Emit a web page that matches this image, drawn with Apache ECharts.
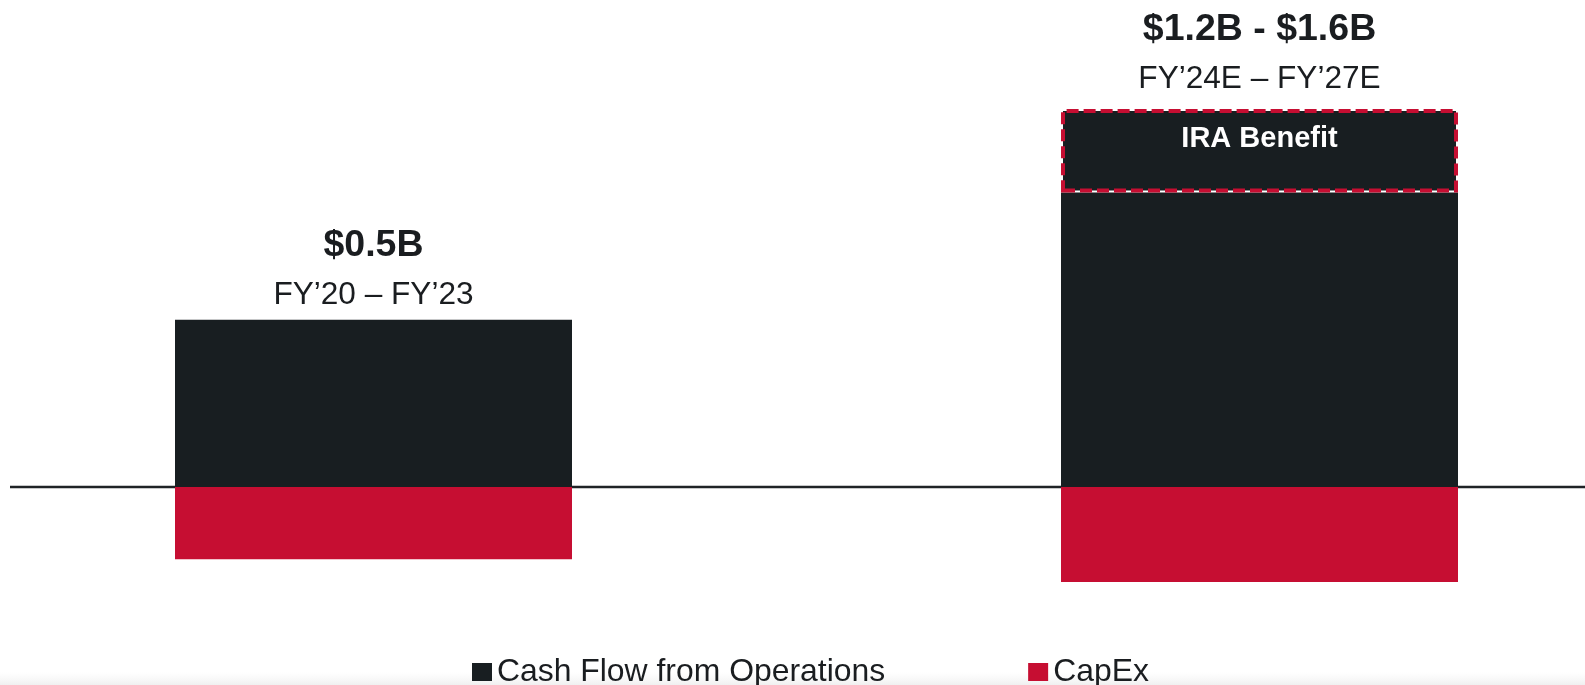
<!DOCTYPE html>
<html>
<head>
<meta charset="utf-8">
<script src="https://cdn.jsdelivr.net/npm/echarts@6/dist/echarts.min.js"></script>
<style>
  html, body { margin: 0; padding: 0; background: #ffffff; }
  #chart { width: 1585px; height: 685px; }
</style>
</head>
<body>
<div id="chart"></div>
<script>
// ---- data ----
const categories = ['FY20-FY23', 'FY24E-FY27E'];
const cfoValues = [0.88, 1.55];          // Cash Flow from Operations (base)
const iraValues = [null, 0.44];          // IRA Benefit on top of CFO
const capexValues = [-0.38, -0.50];      // CapEx (negative)
const totalLabels = ['$0.5B', '$1.2B - $1.6B'];
const periodLabels = ['FY\u201920 \u2013 FY\u201923', 'FY\u201924E \u2013 FY\u201927E'];
const iraLabel = 'IRA Benefit';
const seriesNames = ['Cash Flow from Operations', 'CapEx'];

// ---- styles ----
const DARK = '#181e21';
const RED = '#c60e32';
const FONT = "'Liberation Sans', Arial, Helvetica, sans-serif";
const TOP_LABEL_DIST = [3, 8];   // label spacing above each stack (style)

const chart = echarts.init(document.getElementById('chart'), null, { renderer: 'canvas' });

const option = {
  animation: false,
  backgroundColor: '#ffffff',
  grid: { left: -69.5, right: -117.5, top: 12, bottom: 8, containLabel: false, outerBoundsMode: 'none' },
  xAxis: {
    type: 'category',
    data: categories,
    axisLine: { show: false },
    axisTick: { show: false },
    axisLabel: { show: false },
    splitLine: { show: false }
  },
  yAxis: {
    type: 'value',
    min: -1,
    max: 2.5,
    show: false,
    splitLine: { show: false }
  },
  legend: {
    data: seriesNames,
    left: 467,
    top: 651,
    icon: 'rect',
    itemWidth: 20,
    itemHeight: 18,
    itemGap: 143,
    textStyle: { fontFamily: FONT, fontSize: 31.9, color: '#1a1d20' }
  },
  series: [
    {
      name: seriesNames[0],
      type: 'bar',
      stack: 'total',
      barWidth: 397,
      data: cfoValues,
      itemStyle: { color: DARK },
      z: 3
    },
    {
      name: 'IRA',
      type: 'bar',
      stack: 'total',
      barWidth: 397,
      data: iraValues.map(v => v == null ? '-' : v),
      itemStyle: {
        color: DARK,
        borderColor: RED,
        borderWidth: 4,
        borderType: [12, 5]
      },
      label: {
        show: true,
        position: 'insideTop',
        distance: 16,
        formatter: () => iraLabel,
        fontFamily: FONT,
        fontSize: 29,
        fontWeight: 'bold',
        color: '#ffffff'
      },
      z: 4
    },
    {
      name: 'totals',
      type: 'bar',
      stack: 'total',
      barWidth: 397,
      data: categories.map((c, i) => ({ value: 0, label: { distance: TOP_LABEL_DIST[i] } })),
      itemStyle: { color: 'rgba(0,0,0,0)' },
      label: {
        show: true,
        position: 'top',
        formatter: p => '{b|' + totalLabels[p.dataIndex] + '}\n{r|' + periodLabels[p.dataIndex] + '}',
        rich: {
          b: { fontFamily: FONT, fontSize: 37.5, fontWeight: 'bold', color: '#1a1d20', lineHeight: 55, align: 'center' },
          r: { fontFamily: FONT, fontSize: 31.6, color: '#1a1d20', lineHeight: 44, align: 'center' }
        }
      },
      z: 5
    },
    {
      name: seriesNames[1],
      type: 'bar',
      stack: 'total',
      barWidth: 397,
      data: capexValues,
      itemStyle: { color: RED },
      z: 3
    }
  ]
};

chart.setOption(option);

const y0 = chart.convertToPixel({ yAxisIndex: 0 }, 0);
chart.setOption({
  graphic: [
    {
      type: 'rect',
      z: -10,
      silent: true,
      shape: { x: 0, y: 672, width: 1585, height: 13 },
      style: {
        fill: new echarts.graphic.LinearGradient(0, 0, 0, 1, [
          { offset: 0, color: 'rgba(245,245,245,0)' },
          { offset: 1, color: 'rgba(240,240,240,1)' }
        ])
      }
    },
    {
      type: 'line',
      z: 0,
      silent: true,
      shape: { x1: 10, y1: y0, x2: 1585, y2: y0 },
      style: { stroke: '#1f2326', lineWidth: 2.5 }
    }
  ]
});
</script>
</body>
</html>
